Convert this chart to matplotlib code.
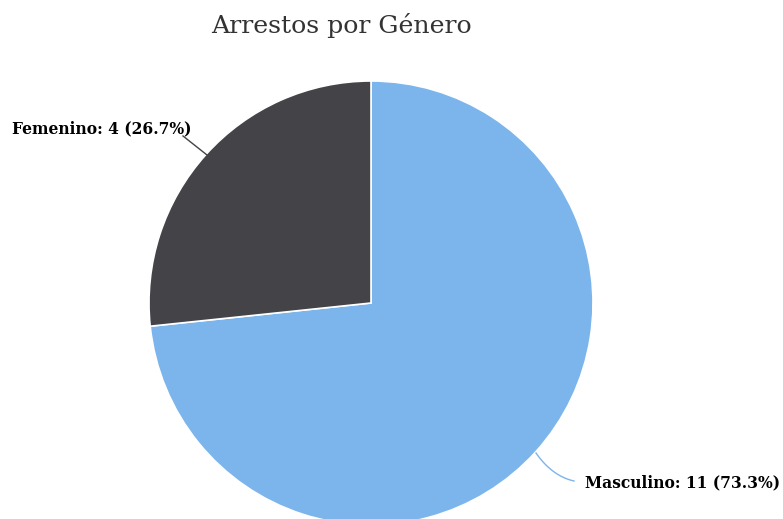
import matplotlib
matplotlib.use("Agg")
import matplotlib.pyplot as plt
import numpy as np

categories = ["Masculino", "Femenino"]
values = [11, 4]
colors = ["#7cb5ec", "#434348"]
title = "Arrestos por Género"

W, H = 783, 519
fig = plt.figure(figsize=(W / 100, H / 100), dpi=100)
ax = fig.add_axes([0, 0, 1, 1])

cx, cy, r = 371, H - 303, 222
wedges, _ = ax.pie(values, colors=colors, startangle=90, counterclock=False,
                   center=(cx, cy), radius=r,
                   wedgeprops=dict(edgecolor="white", linewidth=1.2))
for w in wedges:
    w.set_clip_on(True)
ax.set_xlim(0, W)
ax.set_ylim(0, H)
ax.set_aspect("equal")
ax.axis("off")

total = sum(values)
labels = [f"{c}: {v} ({v / total * 100:.1f}%)" for c, v in zip(categories, values)]

# Femenino label (left)
ax.plot([183, 207], [H - 136, H - 155], color="#434348", lw=1)
ax.text(192, H - 129, labels[1], ha="right", va="center", fontsize=11.2,
        fontweight="bold", family="DejaVu Serif", color="black")

# Masculino label (right)
t = np.linspace(0, 1, 20)
p0, p1, p2 = np.array([536, 453]), np.array([552, 476]), np.array([574, 481])
pts = ((1 - t) ** 2)[:, None] * p0 + (2 * (1 - t) * t)[:, None] * p1 + (t ** 2)[:, None] * p2
ax.plot(pts[:, 0], H - pts[:, 1], color="#7cb5ec", lw=1)
ax.text(780, H - 483, labels[0], ha="right", va="center", fontsize=11.2,
        fontweight="bold", family="DejaVu Serif", color="black")

fig.text(341 / W, 1 - 26 / H, title, ha="center", va="center", fontsize=18.2,
         family="DejaVu Serif", color="#333333")

fig.savefig("out.png", dpi=100)
